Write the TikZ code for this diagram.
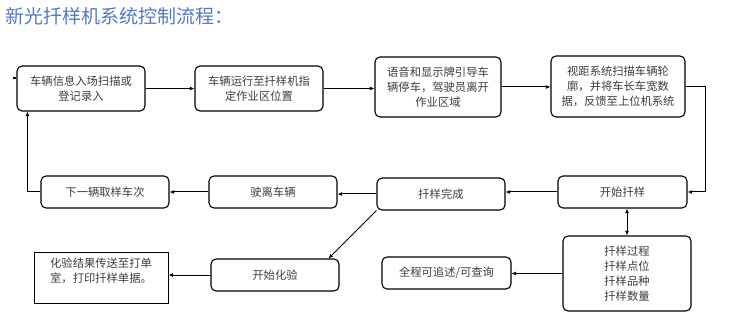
\documentclass[tikz,border=0pt]{standalone}
\usepackage{fontspec}
\usetikzlibrary{arrows.meta,positioning}
\newfontfamily\cjk{Noto Sans CJK SC}
\definecolor{titleblue}{RGB}{82,122,200}
\definecolor{textgray}{RGB}{60,60,60}

\begin{document}
\begin{tikzpicture}[x=1pt,y=-1pt,
    every node/.style={font=\cjk\fontsize{11.3}{15}\selectfont,text=textgray,align=center},
    flowbox/.style={draw=black,line width=1.1pt,rounded corners=5pt,minimum width=128pt,minimum height=32pt,inner sep=2pt},
    plainbox/.style={flowbox,rounded corners=0pt,line width=0.8pt},
    arr/.style={line width=1pt,-{Latex[length=4.5pt,width=4pt]}}]
      \useasboundingbox (0,0) rectangle (750,326);
      % Title
      \node[anchor=west,text=titleblue,font=\cjk\fontsize{19}{21}\selectfont] (title) at (2,16) {新光扦样机系统控制流程：};
      % Top row
      \node[flowbox,minimum height=45pt] (entry) at (81,88.5) {车辆信息入场扫描或\\登记录入};
      \node[flowbox,minimum height=45pt] (drive) at (259,88.5) {车辆运行至扦样机指\\定作业区位置};
      \node[flowbox,minimum width=126pt,minimum height=60pt] (guide) at (438,87) {语音和显示牌引导车\\辆停车，驾驶员离开\\作业区域};
      \node[flowbox,minimum width=134pt,minimum height=61pt] (scan) at (618,86.5) {视距系统扫描车辆轮\\廓，并将车长车宽数\\据，反馈至上位机系统};
      % Middle row
      \node[flowbox,minimum width=129pt] (start) at (622.5,192) {开始扦样};
      \node[flowbox] (done) at (441,194) {扦样完成};
      \node[flowbox] (leave) at (273,192) {驶离车辆};
      \node[flowbox] (next) at (105,192) {下一辆取样车次};
      % Bottom row
      \node[flowbox,minimum height=75pt] (detail) at (627,273.5) {扦样过程\\扦样点位\\扦样品种\\扦样数量};
      \node[flowbox,minimum width=129pt] (trace) at (446.5,273) {全程可追述/可查询};
      \node[flowbox] (test) at (275,275) {开始化验};
      \node[plainbox,minimum width=134pt,minimum height=51pt] (report) at (101,277.5) {化验结果传送至打单\\室，打印扦样单据。\\\mbox{}};
      % Mark left of the first box
      \fill (12.5,77.5) rectangle (16,79.5);
      % Connectors
      \draw[arr] (entry.east) -- (drive.west);
      \draw[arr] (drive.east) -- (drive.east -| guide.west);
      \draw[arr] (guide.east) -- (guide.east -| scan.west);
      \draw[arr] (scan.east) -- ++(20,0) |- (start.east);
      \draw[arr] (start.west) -- (start.west -| done.east);
      \draw[arr] (done.west) -- (done.west -| leave.east);
      \draw[arr] (leave.west) -- (next.east);
      \draw[arr] (next.west) -| ([xshift=11pt]entry.south west);
      \draw[line width=1pt,{Latex[length=4.5pt,width=4pt]}-{Latex[length=4.5pt,width=4pt]}] (detail.north) -- (detail.north |- start.south);
      \draw[arr] (detail.west) -- (detail.west -| trace.east);
      \draw[arr] (done.south west) -- ([xshift=-11pt]test.north east);
      \draw[arr] (test.west) -- (test.west -| report.east);
\end{tikzpicture}
\end{document}
